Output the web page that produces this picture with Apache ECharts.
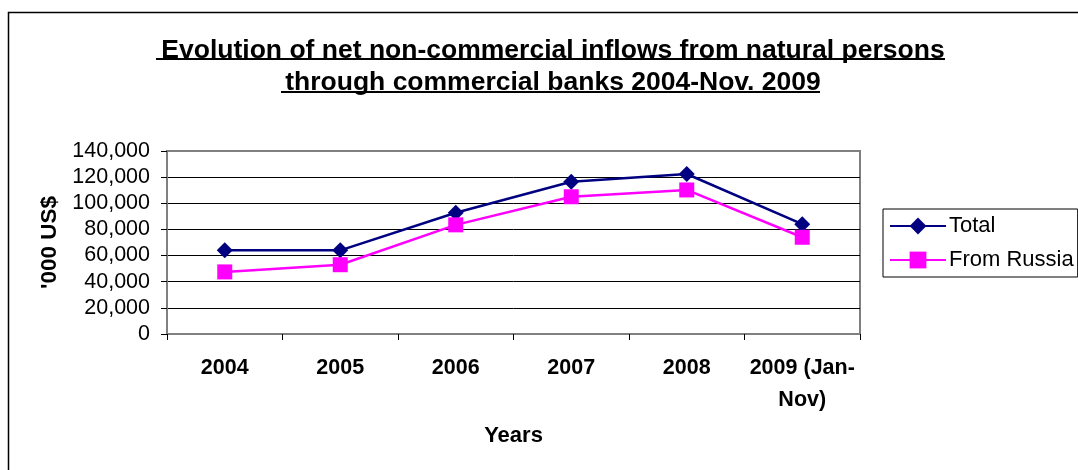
<!DOCTYPE html>
<html>
<head>
<meta charset="utf-8">
<style>
  html, body { margin: 0; padding: 0; background: #fff; }
  #chart { width: 1078px; height: 470px; }
</style>
<script src="https://cdn.jsdelivr.net/npm/echarts@6/dist/echarts.min.js"></script>
</head>
<body>
<div id="chart"></div>
<script>
// Net non-commercial inflows through commercial banks, '000 US$
const years = ['2004', '2005', '2006', '2007', '2008', '2009 (Jan-\nNov)'];
const totalInflows = [64000, 64000, 92800, 116500, 122400, 84000];
const fromRussia = [47500, 53000, 83500, 105000, 110200, 74000];
const titleLines = [
  'Evolution of net non-commercial inflows from natural persons',
  'through commercial banks 2004-Nov. 2009'
];

const font = '"Liberation Sans", Arial, sans-serif';
const chart = echarts.init(document.getElementById('chart'), null, { renderer: 'canvas' });

chart.setOption({
  backgroundColor: '#fff',
  animation: false,
  title: {
    text: titleLines.join('\n'),
    left: 548,
    top: 30,
    textAlign: 'center',
    textStyle: {
      fontFamily: font, fontSize: 26.5, fontWeight: 'bold', color: '#000', lineHeight: 32
    }
  },
  graphic: [
    // outer chart frame (left and top edges visible)
    { type: 'rect', shape: { x: 8.5, y: 12.5, width: 1100, height: 500 },
      style: { fill: 'none', stroke: '#000', lineWidth: 1.5 }, silent: true },
    // title underlines
    { type: 'line', shape: { x1: 156, y1: 59, x2: 945, y2: 59 },
      style: { stroke: '#000', lineWidth: 2 }, silent: true },
    { type: 'line', shape: { x1: 281, y1: 92, x2: 820, y2: 92 },
      style: { stroke: '#000', lineWidth: 2 }, silent: true }
  ],
  legend: {
    orient: 'vertical',
    left: 883,
    top: 209,
    padding: [6, 4, 6, 6],
    itemGap: 12,
    itemWidth: 56,
    itemHeight: 21,
    borderColor: '#000',
    borderWidth: 1,
    textStyle: { fontFamily: font, fontSize: 22, color: '#000', padding: [0, 0, 0, -2] },
    data: ['Total', 'From Russia']
  },
  grid: { left: 167, top: 151, width: 693, height: 183, containLabel: false,
          show: true, borderColor: '#808080', borderWidth: 2 },
  xAxis: {
    type: 'category',
    data: years,
    boundaryGap: true,
    name: 'Years',
    nameLocation: 'middle',
    nameGap: 91,
    nameTextStyle: { fontFamily: font, fontSize: 22, fontWeight: 'bold', color: '#000' },
    axisLine: { lineStyle: { color: '#808080', width: 2 } },
    axisTick: { show: true, alignWithLabel: false, length: 6, lineStyle: { color: '#000', width: 1 } },
    axisLabel: { fontFamily: font, fontSize: 21.5, fontWeight: 'bold', color: '#000',
                 margin: 18, lineHeight: 32, interval: 0 }
  },
  yAxis: {
    type: 'value',
    min: 0, max: 140000, interval: 20000,
    name: "'000 US$",
    nameLocation: 'middle',
    nameGap: 106,
    nameRotate: 90,
    nameTextStyle: { fontFamily: font, fontSize: 22.5, fontWeight: 'bold', color: '#000' },
    axisLine: { show: true, lineStyle: { color: '#808080', width: 2 } },
    axisTick: { show: true, length: 6, inside: false, lineStyle: { color: '#000' } },
    splitLine: {
      show: true,
      lineStyle: {
        color: ['#808080', '#000', '#000', '#000', '#000', '#000', '#000', '#808080'],
        width: 1
      }
    },
    axisLabel: {
      fontFamily: font, fontSize: 21.5, color: '#000', margin: 17,
      formatter: v => v.toLocaleString('en-US')
    }
  },
  series: [
    {
      name: 'Total', type: 'line', data: totalInflows,
      symbol: 'diamond', symbolSize: 16,
      lineStyle: { color: '#000080', width: 2.5 },
      itemStyle: { color: '#000080' }
    },
    {
      name: 'From Russia', type: 'line', data: fromRussia,
      symbol: 'rect', symbolSize: 15,
      lineStyle: { color: '#FF00FF', width: 2.5 },
      itemStyle: { color: '#FF00FF' }
    }
  ]
});
</script>
</body>
</html>
